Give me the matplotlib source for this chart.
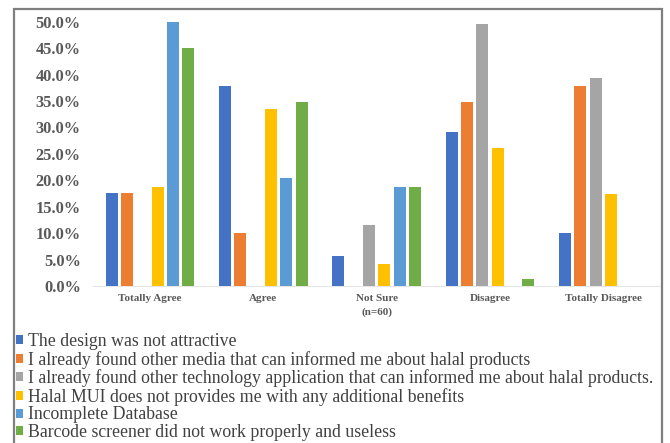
import matplotlib
matplotlib.use("Agg")
import matplotlib.pyplot as plt
import numpy as np
from matplotlib.patches import Rectangle

categories = ["Totally Agree", "Agree", "Not Sure\n(n=60)", "Disagree", "Totally Disagree"]

series_names = [
    "The design was not attractive",
    "I already found other media that can informed me about halal products",
    "I already found other technology application that can informed me about halal products.",
    "Halal MUI does not provides me with any additional benefits",
    "Incomplete Database",
    "Barcode screener did not work properly and useless",
]

design_not_attractive = [17.5, 37.9, 5.7, 29.1, 10.0]
other_media = [17.5, 10.1, 0.0, 34.8, 37.9]
other_tech_app = [0.0, 0.0, 11.5, 49.6, 39.3]
no_additional_benefits = [18.8, 33.5, 4.1, 26.2, 17.4]
incomplete_database = [50.0, 20.4, 18.8, 0.0, 0.0]
barcode_not_working = [45.0, 34.8, 18.8, 1.3, 0.0]

series_values = [
    design_not_attractive,
    other_media,
    other_tech_app,
    no_additional_benefits,
    incomplete_database,
    barcode_not_working,
]

colors = ["#4472C4", "#ED7D31", "#A5A5A5", "#FFC000", "#5B9BD5", "#70AD47"]

yticks = [0, 5, 10, 15, 20, 25, 30, 35, 40, 45, 50]

W, H = 670, 443
fig = plt.figure(figsize=(W / 100, H / 100), dpi=100)
fig.patch.set_facecolor("white")

ax = fig.add_axes([93.3 / W, 1 - 286 / H, (660 - 93.3) / W, (286 - 21.7) / H])

x = np.arange(len(categories))
slot = 0.135
width = 0.106
n = len(series_values)
handles = []
for i, (vals, col) in enumerate(zip(series_values, colors)):
    offs = (i - (n - 1) / 2) * slot
    b = ax.bar(x + offs, vals, width=width, color=col, zorder=3)
    handles.append(b)

ax.set_xlim(-0.5, len(categories) - 0.5)
ax.set_ylim(0, 50)
ax.set_yticks(yticks)
ax.set_yticklabels([f"{v:.1f}%" for v in yticks], fontfamily="Liberation Serif",
                   fontweight="bold", fontsize=11.8, color="#595959")
ax.set_xticks(x)
ax.set_xticklabels(categories, fontfamily="Liberation Serif", fontweight="bold",
                   fontsize=8, color="#595959", linespacing=1.6)
ax.tick_params(axis="both", length=0)
ax.tick_params(axis="y", pad=9)
ax.tick_params(axis="x", pad=6)
for s in ["top", "right", "left"]:
    ax.spines[s].set_visible(False)
ax.spines["bottom"].set_color("#e6e6e6")
ax.spines["bottom"].set_linewidth(0.8)

# outer frame of the chart
frame = Rectangle((14 / W, -0.05), (662 - 14) / W, 1.05 - 9 / H, transform=fig.transFigure,
                  fill=False, edgecolor="#7f7f7f", linewidth=1.6, clip_on=False)
fig.patches.append(frame)

leg = fig.legend(handles, series_names, loc="upper left",
                 bbox_to_anchor=(16 / W, 1 - 333 / H), frameon=False,
                 prop={"family": "Liberation Serif", "size": 12.8},
                 handlelength=0.4, handleheight=0.4, handletextpad=0.25,
                 labelspacing=0.04, borderaxespad=0, borderpad=0)
for t in leg.get_texts():
    t.set_color("#404040")

fig.savefig("out.png", dpi=100, facecolor="white")
